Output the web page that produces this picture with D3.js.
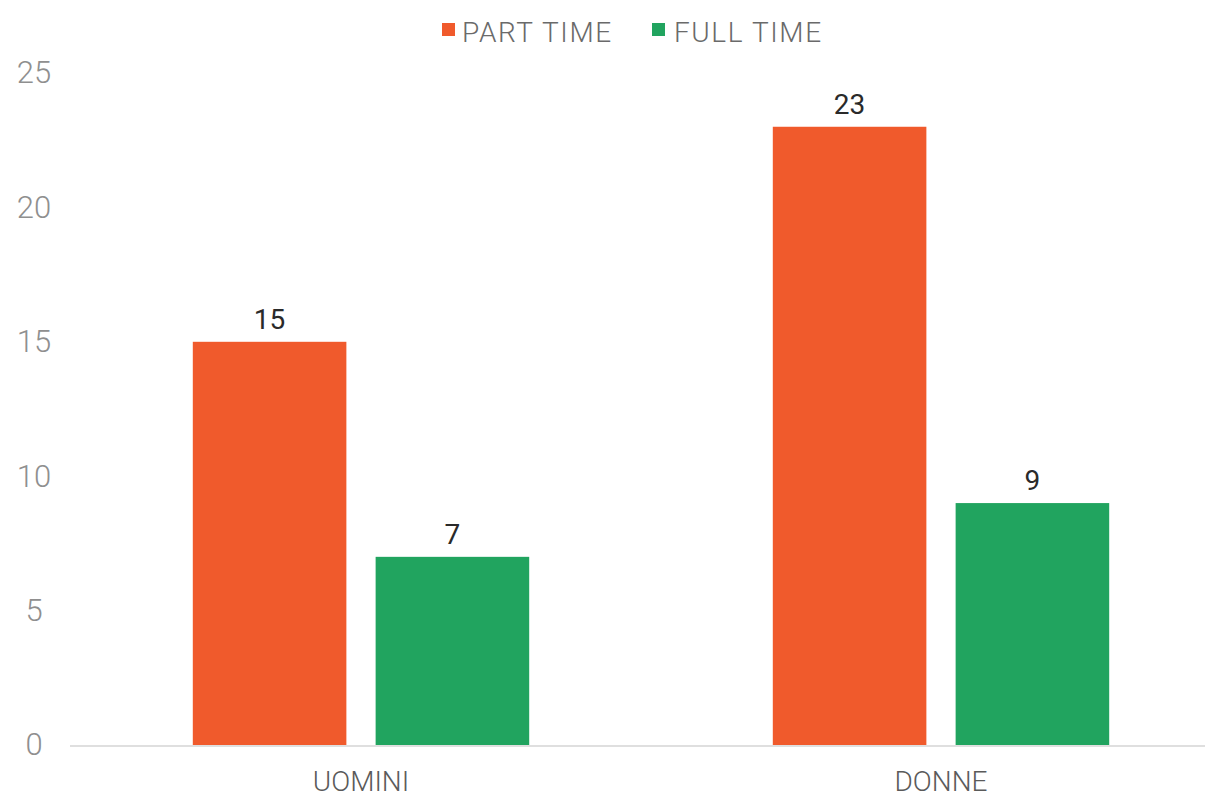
<!DOCTYPE html>
<html>
<head>
<meta charset="utf-8">
<script src="https://cdn.jsdelivr.net/npm/d3@7"></script>
<style>
  html, body { margin: 0; padding: 0; background: #fff; }
  svg { display: block; }
</style>
</head>
<body>
<svg id="chart" width="1214" height="799"></svg>
<script>
// Categories, series and their values
const categories = ["UOMINI", "DONNE"];
const seriesNames = ["PART TIME", "FULL TIME"];
const partTime = [15, 23];
const fullTime = [7, 9];
const yTicks = [0, 5, 10, 15, 20, 25];

const colors = { "PART TIME": "#F05A2C", "FULL TIME": "#21A45F" };

const rows = categories.map((c, i) => ({
  category: c,
  values: [
    { series: "PART TIME", value: partTime[i] },
    { series: "FULL TIME", value: fullTime[i] }
  ]
}));

const svg = d3.select("#chart");
const font = "Roboto, 'Open Sans', sans-serif";

const x0 = d3.scaleBand().domain(categories).range([71, 1231]).paddingInner(0.42).paddingOuter(0.21);
const x1 = d3.scaleBand().domain(seriesNames).range([0, x0.bandwidth()]).paddingInner(0.16);
const y = d3.scaleLinear().domain([0, 25]).range([745, 73]);

// Baseline
svg.append("line")
  .attr("x1", 70).attr("x2", 1205)
  .attr("y1", y(0) + 1).attr("y2", y(0) + 1)
  .attr("stroke", "#d4d4d4").attr("stroke-width", 1.5);

// Y axis labels
const yAxis = svg.append("g")
  .attr("transform", "translate(34,0)")
  .call(d3.axisLeft(y).tickValues(yTicks).tickSize(0).tickPadding(0));
yAxis.select(".domain").remove();
yAxis.selectAll("text")
  .attr("text-anchor", "middle")
  .attr("font-family", font)
  .attr("font-weight", 300)
  .attr("font-size", 31)
  .attr("fill", "#8f8f8f");

// X axis labels
const xAxis = svg.append("g")
  .attr("transform", `translate(0,${y(0)})`)
  .call(d3.axisBottom(x0).tickSize(0).tickPadding(26));
xAxis.select(".domain").remove();
xAxis.selectAll("text")
  .attr("font-family", font)
  .attr("font-weight", 300)
  .attr("font-size", 28)
  .attr("fill", "#5a5a5a");

// Bars
const groups = svg.append("g").selectAll("g")
  .data(rows)
  .join("g")
  .attr("transform", d => `translate(${x0(d.category)},0)`);

groups.selectAll("rect")
  .data(d => d.values)
  .join("rect")
  .attr("x", d => x1(d.series))
  .attr("y", d => y(d.value))
  .attr("width", x1.bandwidth())
  .attr("height", d => y(0) - y(d.value))
  .attr("fill", d => colors[d.series]);

// Value labels
groups.selectAll("text.value")
  .data(d => d.values)
  .join("text")
  .attr("class", "value")
  .attr("x", d => x1(d.series) + x1.bandwidth() / 2)
  .attr("y", d => y(d.value) - 13)
  .attr("text-anchor", "middle")
  .attr("font-family", font)
  .attr("font-size", 28)
  .attr("fill", "#2a2a2a")
  .text(d => d.value);

// Legend
const legendItems = [
  { name: "PART TIME", sx: 442, tx: 462 },
  { name: "FULL TIME", sx: 652, tx: 674 }
];
const legend = svg.append("g");
legend.selectAll("rect")
  .data(legendItems)
  .join("rect")
  .attr("x", d => d.sx).attr("y", 23)
  .attr("width", 13).attr("height", 13)
  .attr("fill", d => colors[d.name]);
legend.selectAll("text")
  .data(legendItems)
  .join("text")
  .attr("x", d => d.tx).attr("y", 42)
  .attr("font-family", font)
  .attr("font-weight", 300)
  .attr("font-size", 28)
  .attr("letter-spacing", 1.6)
  .attr("fill", "#6a6a6a")
  .text(d => d.name);
</script>
</body>
</html>
